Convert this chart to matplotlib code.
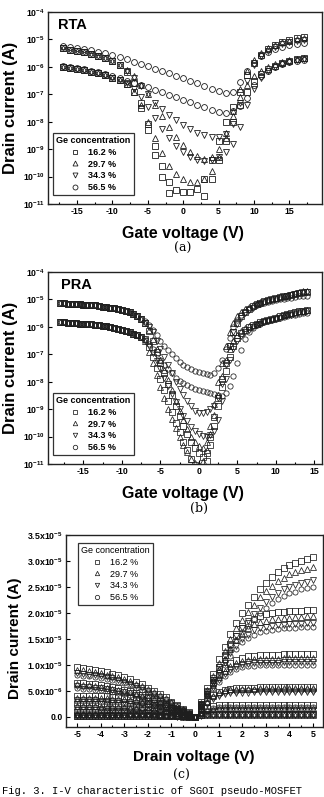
import numpy as np
import matplotlib
matplotlib.use('Agg')
import matplotlib.pyplot as plt
from matplotlib.ticker import MultipleLocator, FuncFormatter, NullLocator, FixedLocator

plt.rcParams['font.family'] = 'Liberation Sans'
plt.rcParams['font.weight'] = 'bold'
plt.rcParams['axes.unicode_minus'] = False
plt.rcParams['mathtext.fontset'] = 'custom'
plt.rcParams['mathtext.rm'] = 'Liberation Sans'
plt.rcParams['mathtext.bf'] = 'Liberation Sans:bold'

conc = ['16.2 %', '29.7 %', '34.3 %', '56.5 %']
marks = ['s', '^', 'v', 'o']

# ---- (a) RTA : gate sweep, log10(Id), two drain biases per sample
vg_a = list(range(-17, 18))
a_sq_hi = [-5.33, -5.37, -5.42, -5.47, -5.53, -5.60, -5.68, -5.78, -5.95, -6.20, -6.60, -7.30, -8.10, -8.90, -9.60, -10.20, -10.50,
           -10.55, -10.55, -10.45, -10.10, -9.40, -8.70, -8.00, -7.45, -6.90, -6.30, -5.85, -5.55, -5.35, -5.20, -5.10, -5.02, -4.96, -4.90]
a_sq_lo = [-6.00, -6.04, -6.08, -6.13, -6.18, -6.24, -6.31, -6.39, -6.48, -6.62, -6.90, -7.50, -8.30, -9.20, -10.00, -10.60, -11.10,
           -11.30, -11.30, -11.10, -10.70, -10.10, -9.40, -8.70, -8.00, -7.40, -6.90, -6.50, -6.25, -6.08, -5.96, -5.86, -5.78, -5.72, -5.67]
a_tu_hi = [-5.33, -5.37, -5.42, -5.47, -5.53, -5.60, -5.68, -5.78, -5.92, -6.10, -6.35, -6.65, -7.00, -7.40, -7.80, -8.20, -8.55,
           -8.85, -9.10, -9.25, -9.35, -9.30, -9.00, -8.40, -7.60, -6.80, -6.15, -5.75, -5.50, -5.33, -5.20, -5.11, -5.04, -4.99, -4.95]
a_tu_lo = [-6.00, -6.04, -6.08, -6.13, -6.18, -6.24, -6.31, -6.39, -6.48, -6.62, -6.90, -7.40, -8.00, -8.60, -9.15, -9.60, -9.90,
           -10.10, -10.20, -10.20, -10.10, -9.80, -9.30, -8.60, -7.80, -7.10, -6.65, -6.35, -6.15, -6.00, -5.90, -5.82, -5.76, -5.71, -5.68]
a_td_hi = [-5.33, -5.37, -5.42, -5.47, -5.53, -5.60, -5.68, -5.78, -5.95, -6.15, -6.40, -6.70, -7.00, -7.30, -7.55, -7.75, -7.95,
           -8.12, -8.25, -8.40, -8.50, -8.55, -8.55, -8.45, -8.10, -7.30, -6.50, -5.95, -5.62, -5.42, -5.28, -5.18, -5.11, -5.06, -5.02]
a_td_lo = [-6.00, -6.04, -6.08, -6.13, -6.18, -6.24, -6.31, -6.39, -6.48, -6.60, -6.80, -7.10, -7.45, -7.85, -8.25, -8.60, -8.90,
           -9.12, -9.28, -9.38, -9.42, -9.40, -9.30, -9.10, -8.80, -8.20, -7.40, -6.80, -6.40, -6.15, -6.00, -5.90, -5.82, -5.76, -5.72]
a_ci_hi = [-5.23, -5.27, -5.31, -5.35, -5.40, -5.45, -5.51, -5.58, -5.65, -5.73, -5.81, -5.89, -5.97, -6.06, -6.15, -6.24, -6.33,
           -6.42, -6.51, -6.60, -6.70, -6.80, -6.88, -6.95, -6.92, -6.55, -6.15, -5.85, -5.60, -5.45, -5.35, -5.27, -5.20, -5.15, -5.12]
a_ci_lo = [-5.96, -6.00, -6.04, -6.09, -6.14, -6.20, -6.27, -6.34, -6.42, -6.50, -6.58, -6.66, -6.75, -6.84, -6.93, -7.02, -7.11,
           -7.20, -7.29, -7.38, -7.47, -7.56, -7.63, -7.69, -7.62, -7.44, -7.14, -6.65, -6.35, -6.15, -6.00, -5.90, -5.83, -5.78, -5.75]

# ---- (b) PRA : gate sweep -18..14 V in 0.5 V steps, log10(Id)
vg_b = np.arange(-18, 14.25, 0.5)
b_left_hi = [-5.13, -5.14, -5.15, -5.16, -5.17, -5.18, -5.19, -5.20, -5.21, -5.22, -5.24,
             -5.26, -5.28, -5.30, -5.32, -5.35, -5.38, -5.42, -5.47, -5.54, -5.62, -5.72]
b_left_lo = [-5.83, -5.84, -5.85, -5.86, -5.87, -5.88, -5.89, -5.90, -5.91, -5.92, -5.94,
             -5.96, -5.98, -6.00, -6.03, -6.06, -6.10, -6.14, -6.19, -6.25, -6.31, -6.38]
# from -7 V upward
b_sq_hi = [-5.85, -6.15, -6.5, -6.9, -7.3, -7.7, -8.1, -8.5, -8.9, -9.25, -9.6, -9.9, -10.2, -10.4, -10.6,
           -10.75, -10.6, -10.0, -9.3, -8.6, -7.9, -7.3, -6.7, -6.2, -5.85, -5.62, -5.45, -5.34, -5.25, -5.18, -5.12,
           -5.07, -5.03, -4.99, -4.96, -4.92, -4.89, -4.86, -4.83, -4.8, -4.77, -4.74, -4.72]
b_sq_lo = [-6.46, -6.75, -7.1, -7.5, -7.9, -8.3, -8.7, -9.1, -9.5, -9.85, -10.2, -10.5, -10.8, -11.05, -11.25,
           -11.2, -10.9, -10.3, -9.6, -8.9, -8.2, -7.6, -7.1, -6.7, -6.4, -6.22, -6.1, -6.02, -5.95, -5.89, -5.83,
           -5.78, -5.74, -5.7, -5.66, -5.62, -5.58, -5.54, -5.5, -5.47, -5.44, -5.42, -5.4]
b_tu_hi = [-5.85, -6.12, -6.45, -6.82, -7.2, -7.58, -7.95, -8.32, -8.7, -9.05, -9.4, -9.72, -10.0, -10.2, -10.35,
           -10.4, -10.2, -9.6, -8.8, -8.0, -7.3, -6.7, -6.2, -5.85, -5.6, -5.46, -5.35, -5.27, -5.2, -5.14, -5.09,
           -5.04, -5.0, -4.96, -4.93, -4.89, -4.86, -4.83, -4.8, -4.77, -4.74, -4.71, -4.69]
b_tu_lo = [-6.5, -6.9, -7.3, -7.75, -8.2, -8.6, -9.0, -9.35, -9.7, -10.0, -10.3, -10.55, -10.8, -10.95, -11.05,
           -10.9, -10.5, -9.9, -9.2, -8.5, -7.8, -7.2, -6.8, -6.5, -6.3, -6.16, -6.05, -5.98, -5.92, -5.86, -5.81,
           -5.76, -5.72, -5.68, -5.64, -5.6, -5.57, -5.53, -5.5, -5.47, -5.44, -5.41, -5.39]
b_td_hi = [-5.85, -6.0, -6.2, -6.5, -6.8, -7.1, -7.4, -7.7, -8.0, -8.25, -8.5, -8.7, -8.9, -9.05, -9.15,
           -9.15, -9.1, -9.0, -8.9, -8.6, -8.1, -7.4, -6.7, -6.2, -5.9, -5.68, -5.5, -5.39, -5.3, -5.22, -5.15,
           -5.1, -5.05, -5.01, -4.97, -4.93, -4.9, -4.87, -4.84, -4.81, -4.78, -4.75, -4.73]
b_td_lo = [-6.5, -6.7, -6.95, -7.25, -7.55, -7.85, -8.15, -8.45, -8.75, -9.0, -9.25, -9.45, -9.65, -9.8, -9.9,
           -9.97, -10.0, -9.95, -9.8, -9.4, -8.7, -7.9, -7.2, -6.8, -6.5, -6.32, -6.2, -6.1, -6.02, -5.95, -5.88,
           -5.83, -5.78, -5.74, -5.7, -5.66, -5.62, -5.58, -5.55, -5.52, -5.49, -5.46, -5.44]
b_ci_hi = [-5.80, -5.93, -6.1, -6.3, -6.5, -6.68, -6.85, -7.0, -7.15, -7.27, -7.38, -7.47, -7.55, -7.6, -7.65,
           -7.69, -7.72, -7.75, -7.7, -7.5, -7.2, -6.8, -6.4, -6.0, -5.75, -5.58, -5.45, -5.36, -5.28, -5.22, -5.17,
           -5.12, -5.08, -5.05, -5.02, -4.99, -4.97, -4.95, -4.93, -4.91, -4.89, -4.87, -4.86]
b_ci_lo = [-6.45, -6.62, -6.8, -7.0, -7.2, -7.38, -7.55, -7.7, -7.85, -7.96, -8.05, -8.13, -8.2, -8.25, -8.3,
           -8.34, -8.38, -8.42, -8.45, -8.5, -8.52, -8.4, -8.15, -7.8, -7.3, -6.85, -6.45, -6.2, -6.05, -5.95, -5.88,
           -5.83, -5.78, -5.74, -5.7, -5.67, -5.64, -5.61, -5.58, -5.55, -5.53, -5.51, -5.5]

# ---- (c) output curves, drain sweep -5..5 V (0.25 V), current in uA
vd_c = np.arange(-5, 5.125, 0.25)
c_sq = [
    [9.5, 9.4, 9.2, 9.0, 8.8, 8.6, 8.3, 8.0, 7.6, 7.2, 6.7, 6.2, 5.6, 5.0, 4.3, 3.7, 2.9, 2.2, 1.5, 0.8, 0.0,
     2.8, 5.5, 8.3, 11.1, 13.5, 16.0, 18.1, 20.0, 21.5, 23.0, 24.6, 25.8, 26.9, 27.8, 28.6, 29.2, 29.6, 30.0, 30.4, 30.7],
    [6.5, 6.4, 6.3, 6.2, 6.0, 5.9, 5.7, 5.5, 5.2, 4.9, 4.6, 4.2, 3.8, 3.4, 3.0, 2.5, 2.0, 1.5, 1.0, 0.5, 0.0,
     2.5, 4.9, 7.4, 9.6, 11.9, 13.9, 15.6, 17.0, 18.0, 18.9, 19.4, 19.7, 19.9, 20.1, 20.2, 20.3, 20.4, 20.4, 20.5, 20.5],
    [4.0, 4.0, 4.0, 3.9, 3.9, 3.9, 3.8, 3.7, 3.6, 3.5, 3.4, 3.2, 3.0, 2.7, 2.4, 2.0, 1.7, 1.3, 0.8, 0.4, 0.0,
     2.2, 4.3, 6.4, 8.0, 9.4, 10.3, 10.9, 11.3, 11.6, 11.7, 11.8, 11.9, 11.9, 11.9, 12.0, 12.0, 12.0, 12.0, 12.0, 12.0],
    [2.4, 2.4, 2.38, 2.36, 2.34, 2.32, 2.28, 2.23, 2.17, 2.1, 2.02, 1.91, 1.78, 1.62, 1.44, 1.22, 1.0, 0.76, 0.5, 0.25, 0.0,
     1.6, 3.0, 4.1, 4.8, 5.2, 5.4, 5.5, 5.6, 5.6, 5.6, 5.7, 5.7, 5.7, 5.7, 5.7, 5.7, 5.7, 5.7, 5.7, 5.7],
    [0.9, 0.9, 0.89, 0.89, 0.88, 0.87, 0.86, 0.84, 0.81, 0.79, 0.76, 0.72, 0.67, 0.61, 0.54, 0.46, 0.37, 0.28, 0.19, 0.09, 0.0,
     0.92, 1.61, 2.02, 2.19, 2.25, 2.28, 2.3, 2.3, 2.3, 2.3, 2.3, 2.3, 2.3, 2.3, 2.3, 2.3, 2.3, 2.3, 2.3, 2.3],
    [0.15, 0.15, 0.15, 0.15, 0.15, 0.15, 0.15, 0.14, 0.14, 0.14, 0.13, 0.13, 0.12, 0.11, 0.10, 0.09, 0.07, 0.05, 0.04, 0.02, 0.0,
     0.30, 0.45, 0.49, 0.5, 0.5, 0.5, 0.5, 0.5, 0.5, 0.5, 0.5, 0.5, 0.5, 0.5, 0.5, 0.5, 0.5, 0.5, 0.5, 0.5],
]
c_tu = [
    [9.0, 8.9, 8.7, 8.6, 8.4, 8.1, 7.9, 7.6, 7.2, 6.8, 6.3, 5.9, 5.3, 4.7, 4.1, 3.5, 2.8, 2.1, 1.4, 0.7, 0.0,
     2.6, 5.2, 7.8, 10.4, 12.7, 15.0, 17.0, 18.7, 20.2, 21.6, 23.0, 24.2, 25.2, 26.1, 26.8, 27.4, 27.8, 28.2, 28.5, 28.8],
    [6.2, 6.1, 6.0, 5.9, 5.8, 5.6, 5.4, 5.2, 5.0, 4.7, 4.4, 4.0, 3.7, 3.3, 2.8, 2.4, 1.9, 1.5, 1.0, 0.5, 0.0,
     2.3, 4.6, 7.0, 9.1, 11.2, 13.1, 14.7, 16.0, 17.0, 17.8, 18.2, 18.5, 18.8, 18.9, 19.0, 19.1, 19.2, 19.2, 19.3, 19.3],
    [3.6, 3.6, 3.6, 3.5, 3.5, 3.5, 3.4, 3.3, 3.3, 3.2, 3.0, 2.9, 2.7, 2.4, 2.2, 1.8, 1.5, 1.1, 0.8, 0.4, 0.0,
     2.0, 4.1, 6.0, 7.6, 8.8, 9.7, 10.3, 10.7, 10.9, 11.1, 11.1, 11.2, 11.2, 11.2, 11.3, 11.3, 11.3, 11.3, 11.3, 11.3],
    [2.0, 2.0, 1.98, 1.97, 1.95, 1.93, 1.9, 1.86, 1.81, 1.75, 1.68, 1.59, 1.48, 1.35, 1.2, 1.02, 0.83, 0.63, 0.42, 0.21, 0.0,
     1.5, 2.9, 4.0, 4.7, 5.1, 5.3, 5.3, 5.4, 5.4, 5.4, 5.5, 5.5, 5.5, 5.5, 5.5, 5.5, 5.5, 5.5, 5.5, 5.5],
    [0.6, 0.6, 0.59, 0.59, 0.59, 0.58, 0.57, 0.56, 0.54, 0.53, 0.5, 0.48, 0.44, 0.41, 0.36, 0.31, 0.25, 0.19, 0.13, 0.06, 0.0,
     0.68, 1.19, 1.5, 1.62, 1.67, 1.68, 1.7, 1.7, 1.7, 1.7, 1.7, 1.7, 1.7, 1.7, 1.7, 1.7, 1.7, 1.7, 1.7, 1.7],
    [0.10, 0.10, 0.10, 0.10, 0.10, 0.10, 0.10, 0.09, 0.09, 0.09, 0.09, 0.08, 0.08, 0.07, 0.06, 0.05, 0.04, 0.03, 0.02, 0.01, 0.0,
     0.22, 0.32, 0.35, 0.35, 0.35, 0.35, 0.35, 0.35, 0.35, 0.35, 0.35, 0.35, 0.35, 0.35, 0.35, 0.35, 0.35, 0.35, 0.35, 0.35],
]
c_td = [
    [8.4, 8.3, 8.1, 8.0, 7.8, 7.6, 7.4, 7.1, 6.7, 6.3, 5.9, 5.5, 5.0, 4.4, 3.8, 3.2, 2.6, 2.0, 1.3, 0.7, 0.0,
     2.4, 4.7, 7.1, 9.5, 11.6, 13.7, 15.5, 17.1, 18.4, 19.7, 21.0, 22.1, 23.0, 23.8, 24.5, 25.0, 25.4, 25.7, 26.0, 26.3],
    [5.9, 5.8, 5.7, 5.6, 5.5, 5.3, 5.2, 5.0, 4.7, 4.5, 4.2, 3.8, 3.5, 3.1, 2.7, 2.3, 1.8, 1.4, 0.9, 0.5, 0.0,
     2.2, 4.3, 6.5, 8.5, 10.4, 12.2, 13.7, 14.9, 15.8, 16.6, 17.0, 17.3, 17.5, 17.6, 17.7, 17.8, 17.9, 17.9, 18.0, 18.0],
    [3.2, 3.2, 3.2, 3.2, 3.1, 3.1, 3.0, 3.0, 2.9, 2.8, 2.7, 2.5, 2.4, 2.2, 1.9, 1.6, 1.3, 1.0, 0.7, 0.3, 0.0,
     1.9, 3.8, 5.6, 7.0, 8.2, 9.0, 9.6, 9.9, 10.1, 10.3, 10.3, 10.4, 10.4, 10.4, 10.5, 10.5, 10.5, 10.5, 10.5, 10.5],
    [1.6, 1.6, 1.58, 1.58, 1.56, 1.54, 1.52, 1.49, 1.45, 1.4, 1.34, 1.27, 1.18, 1.08, 0.96, 0.82, 0.66, 0.5, 0.34, 0.17, 0.0,
     1.3, 2.4, 3.4, 4.0, 4.3, 4.5, 4.6, 4.6, 4.6, 4.7, 4.7, 4.7, 4.7, 4.7, 4.7, 4.7, 4.7, 4.7, 4.7, 4.7],
    [0.4, 0.4, 0.4, 0.39, 0.39, 0.39, 0.38, 0.37, 0.36, 0.35, 0.34, 0.32, 0.3, 0.27, 0.24, 0.2, 0.17, 0.13, 0.08, 0.04, 0.0,
     0.52, 0.91, 1.14, 1.24, 1.27, 1.29, 1.3, 1.3, 1.3, 1.3, 1.3, 1.3, 1.3, 1.3, 1.3, 1.3, 1.3, 1.3, 1.3, 1.3],
    [0.08, 0.08, 0.08, 0.08, 0.08, 0.08, 0.08, 0.07, 0.07, 0.07, 0.07, 0.06, 0.06, 0.05, 0.05, 0.04, 0.03, 0.02, 0.02, 0.01, 0.0,
     0.16, 0.24, 0.25, 0.25, 0.25, 0.25, 0.25, 0.25, 0.25, 0.25, 0.25, 0.25, 0.25, 0.25, 0.25, 0.25, 0.25, 0.25, 0.25, 0.25],
]
c_ci = [
    [8.0, 7.9, 7.8, 7.6, 7.4, 7.2, 7.0, 6.7, 6.4, 6.0, 5.6, 5.2, 4.7, 4.2, 3.6, 3.1, 2.5, 1.9, 1.3, 0.6, 0.0,
     2.3, 4.5, 6.8, 9.0, 11.0, 13.0, 14.8, 16.3, 17.5, 18.8, 20.0, 21.0, 21.9, 22.6, 23.3, 23.8, 24.1, 24.5, 24.8, 25.0],
    [5.5, 5.4, 5.3, 5.2, 5.1, 5.0, 4.8, 4.6, 4.4, 4.2, 3.9, 3.6, 3.2, 2.9, 2.5, 2.1, 1.7, 1.3, 0.9, 0.4, 0.0,
     2.1, 4.1, 6.2, 8.1, 10.0, 11.7, 13.1, 14.3, 15.1, 15.8, 16.3, 16.5, 16.7, 16.9, 17.0, 17.0, 17.1, 17.2, 17.2, 17.2],
    [3.0, 3.0, 3.0, 3.0, 2.9, 2.9, 2.9, 2.8, 2.7, 2.6, 2.5, 2.4, 2.2, 2.0, 1.8, 1.5, 1.2, 0.9, 0.6, 0.3, 0.0,
     1.8, 3.6, 5.3, 6.7, 7.8, 8.6, 9.1, 9.5, 9.7, 9.8, 9.9, 9.9, 9.9, 10.0, 10.0, 10.0, 10.0, 10.0, 10.0, 10.0],
    [1.4, 1.4, 1.39, 1.38, 1.37, 1.35, 1.33, 1.3, 1.27, 1.23, 1.18, 1.11, 1.04, 0.95, 0.84, 0.71, 0.58, 0.44, 0.29, 0.15, 0.0,
     1.5, 2.7, 3.7, 4.4, 4.8, 5.0, 5.0, 5.1, 5.1, 5.1, 5.2, 5.2, 5.2, 5.2, 5.2, 5.2, 5.2, 5.2, 5.2, 5.2],
    [0.3, 0.3, 0.3, 0.3, 0.29, 0.29, 0.29, 0.28, 0.27, 0.26, 0.25, 0.24, 0.22, 0.2, 0.18, 0.15, 0.12, 0.09, 0.06, 0.03, 0.0,
     0.76, 1.33, 1.67, 1.81, 1.86, 1.88, 1.9, 1.9, 1.9, 1.9, 1.9, 1.9, 1.9, 1.9, 1.9, 1.9, 1.9, 1.9, 1.9, 1.9],
    [0.12, 0.12, 0.12, 0.12, 0.12, 0.12, 0.12, 0.11, 0.11, 0.11, 0.10, 0.10, 0.09, 0.08, 0.07, 0.06, 0.05, 0.04, 0.03, 0.01, 0.0,
     0.27, 0.41, 0.45, 0.45, 0.45, 0.45, 0.45, 0.45, 0.45, 0.45, 0.45, 0.45, 0.45, 0.45, 0.45, 0.45, 0.45, 0.45, 0.45, 0.45],
]

EC = '#1e1e1e'
W, H = 324, 797


def px_axes(fig, l, t, r, b):
    return fig.add_axes([l / W, 1 - b / H, (r - l) / W, (b - t) / H])


def style(ax):
    for s in ax.spines.values():
        s.set_linewidth(1.0)
        s.set_color('#222222')
    ax.tick_params(which='both', direction='in', top=False, right=False,
                   labelsize=6.3, width=0.8, pad=2.5)
    ax.tick_params(which='major', length=3)
    ax.tick_params(which='minor', length=1.6)


def add_legend(ax, handles, anchor, bold=True):
    leg = ax.legend(handles, conc, title='Ge concentration', loc='upper left',
                    bbox_to_anchor=anchor, fontsize=6.5, title_fontsize=6.5,
                    fancybox=False, framealpha=1, edgecolor='#333333',
                    handlelength=1.0, handletextpad=0.9, labelspacing=0.3,
                    borderpad=0.35, borderaxespad=0, markerscale=0.85)
    leg.get_frame().set_linewidth(0.9)
    wt = 'bold' if bold else 'normal'
    leg.get_title().set_fontweight(wt)
    for t in leg.get_texts():
        t.set_fontweight(wt)
    return leg


def log_fmt(v, pos):
    return r'$\mathbf{10^{%d}}$' % round(np.log10(v))


def lin_fmt(v, pos):
    if v < 0:
        return ''
    if abs(v) < 1e-12:
        return '0.0'
    e = int(np.floor(np.log10(v) + 1e-9))
    return r'$\mathbf{%.1fx10^{%d}}$' % (v / 10 ** e, e)


fig = plt.figure(figsize=(W / 100, H / 100), dpi=100)

# (a) RTA
ax = px_axes(fig, 48, 12, 322, 204)
a_curves = [(a_sq_hi, a_sq_lo), (a_tu_hi, a_tu_lo), (a_td_hi, a_td_lo), (a_ci_hi, a_ci_lo)]
hs = []
for (hi, lo), m in zip(a_curves, marks):
    for vals in (hi, lo):
        h, = ax.plot(vg_a, 10 ** np.array(vals), ls='none', marker=m, ms=4.2,
                     mfc='none', mec=EC, mew=0.6)
    hs.append(h)
ax.set_yscale('log')
ax.set_ylim(1e-11, 1e-4)
ax.set_xlim(-19.1, 19.6)
ax.xaxis.set_major_locator(MultipleLocator(5))
ax.xaxis.set_minor_locator(MultipleLocator(2.5))
ax.yaxis.set_major_locator(FixedLocator([10.0 ** k for k in range(-11, -3)]))
ax.yaxis.set_minor_locator(NullLocator())
ax.yaxis.set_major_formatter(FuncFormatter(log_fmt))
style(ax)
ax.text(0.037, 0.93, 'RTA', transform=ax.transAxes, fontsize=10.5, va='center')
add_legend(ax, hs, (0.018, 0.37))
fig.text(183 / W, 1 - 233 / H, 'Gate voltage (V)', ha='center', va='center', fontsize=11.5)
fig.text(10.5 / W, 1 - 108 / H, 'Drain current (A)', rotation=90, ha='center', va='center', fontsize=12)
fig.text(183 / W, 1 - 248 / H, '(a)', ha='center', va='center', fontsize=9,
         family='DejaVu Serif', weight='normal')

# (b) PRA
ax = px_axes(fig, 48, 272, 322, 464)
b_curves = [(b_sq_hi, b_sq_lo), (b_tu_hi, b_tu_lo), (b_td_hi, b_td_lo), (b_ci_hi, b_ci_lo)]
hs = []
for (hi, lo), m in zip(b_curves, marks):
    for left, vals in ((b_left_hi, hi), (b_left_lo, lo)):
        y = 10 ** np.array(left + vals)
        h, = ax.plot(vg_b, y, ls='none', marker=m, ms=3.8,
                     mfc='none', mec=EC, mew=0.55)
    hs.append(h)
ax.set_yscale('log')
ax.set_ylim(1e-11, 1e-4)
ax.set_xlim(-19.6, 16)
ax.xaxis.set_major_locator(MultipleLocator(5))
ax.xaxis.set_minor_locator(MultipleLocator(2.5))
ax.yaxis.set_major_locator(FixedLocator([10.0 ** k for k in range(-11, -3)]))
ax.yaxis.set_minor_locator(NullLocator())
ax.yaxis.set_major_formatter(FuncFormatter(log_fmt))
style(ax)
ax.text(0.047, 0.93, 'PRA', transform=ax.transAxes, fontsize=10.5, va='center')
add_legend(ax, hs, (0.018, 0.37))
fig.text(183 / W, 1 - 493 / H, 'Gate voltage (V)', ha='center', va='center', fontsize=11.5)
fig.text(10.5 / W, 1 - 368 / H, 'Drain current (A)', rotation=90, ha='center', va='center', fontsize=12)
fig.text(199 / W, 1 - 508 / H, '(b)', ha='center', va='center', fontsize=9,
         family='DejaVu Serif', weight='normal')

# (c) output characteristics
ax = px_axes(fig, 66, 535, 323, 727)
hs = []
for group, m in zip([c_sq, c_tu, c_td, c_ci], marks):
    for vals in group:
        h, = ax.plot(vd_c, np.array(vals) * 1e-6, ls='none', marker=m, ms=3.7,
                     mfc='none', mec=EC, mew=0.55)
    hs.append(h)
ax.set_xlim(-5.47, 5.42)
ax.set_ylim(-2e-6, 3.5e-5)
ax.xaxis.set_major_locator(MultipleLocator(1))
ax.xaxis.set_minor_locator(MultipleLocator(0.5))
ax.yaxis.set_major_locator(MultipleLocator(5e-6))
ax.yaxis.set_minor_locator(NullLocator())
ax.yaxis.set_major_formatter(FuncFormatter(lin_fmt))
style(ax)
add_legend(ax, hs, (0.047, 0.958), bold=False)
fig.text(194 / W, 1 - 757 / H, 'Drain voltage (V)', ha='center', va='center', fontsize=11)
fig.text(15 / W, 1 - 638 / H, 'Drain current (A)', rotation=90, ha='center', va='center', fontsize=11)
fig.text(181 / W, 1 - 775 / H, '(c)', ha='center', va='center', fontsize=9,
         family='DejaVu Serif', weight='normal')

fig.text(2 / W, 1 - 796.5 / H, 'Fig. 3. I-V characteristic of SGOI pseudo-MOSFET',
         ha='left', va='bottom', fontsize=7.6, family='Liberation Mono', weight='normal')

fig.savefig('out.png', dpi=100)
